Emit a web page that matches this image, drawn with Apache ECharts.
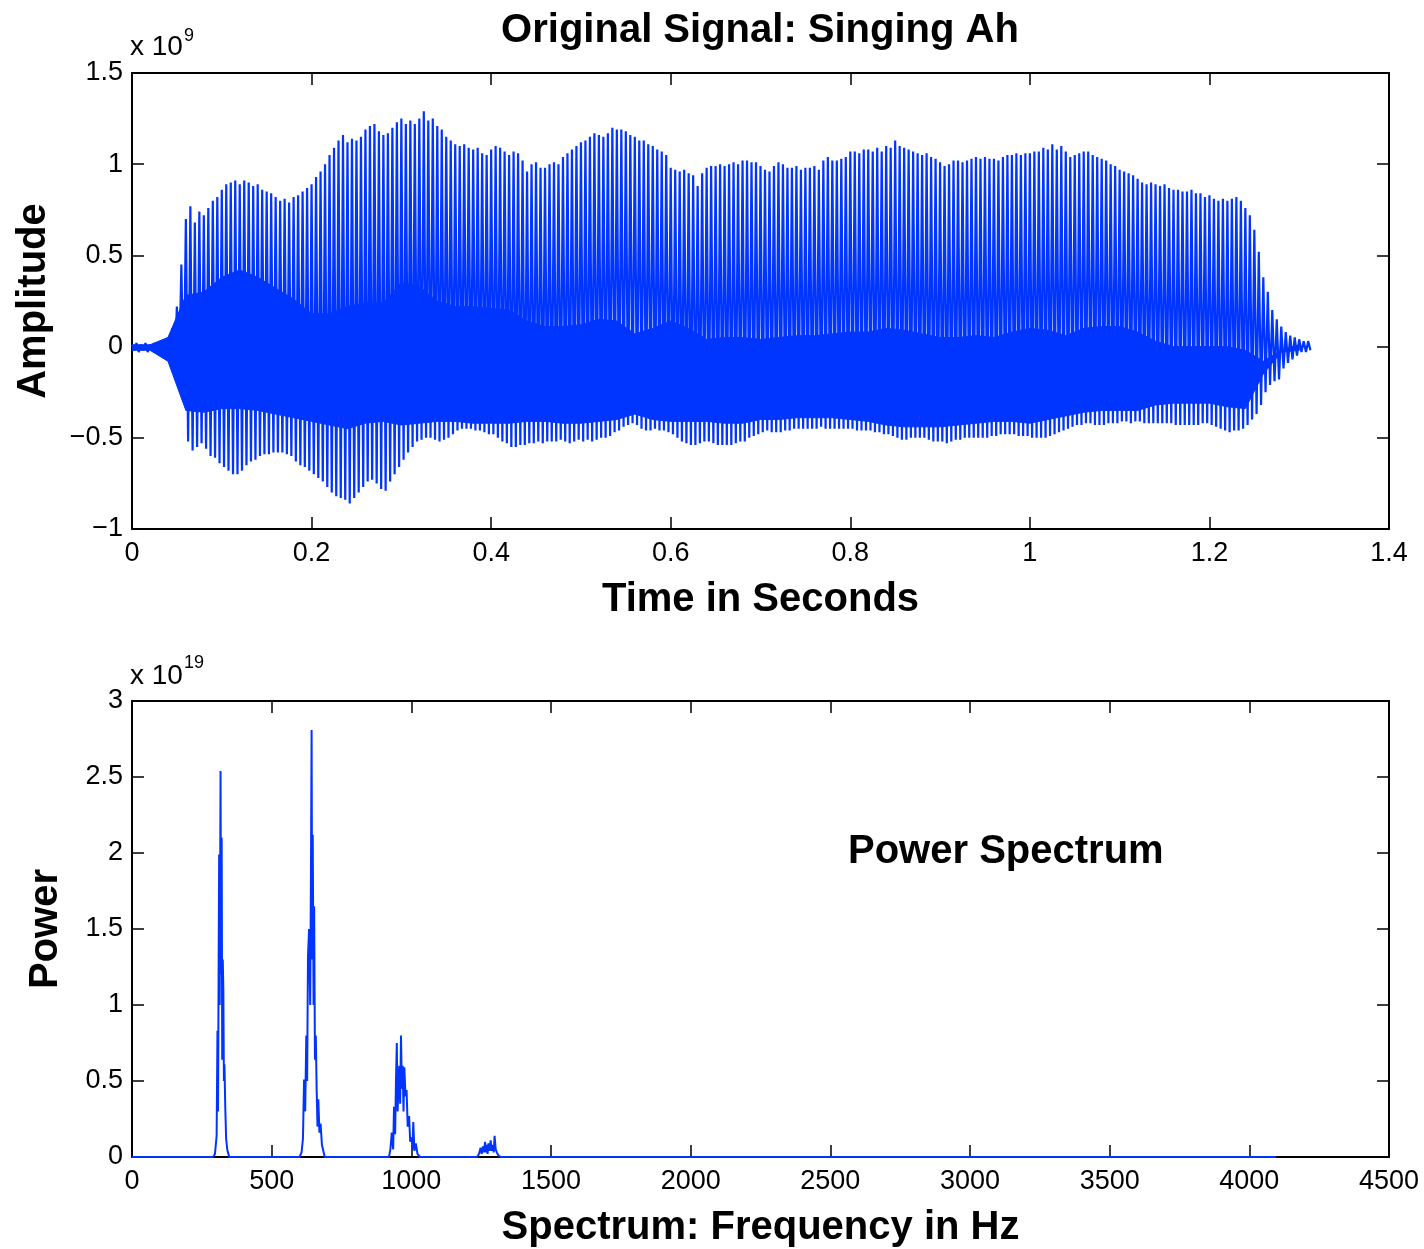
<!DOCTYPE html>
<html>
<head>
<meta charset="utf-8">
<script src="https://cdn.jsdelivr.net/npm/echarts@6/dist/echarts.min.js"></script>
<style>
html,body{margin:0;padding:0;background:#fff;}
#chart{width:1424px;height:1249px;}
</style>
</head>
<body>
<div id="chart"></div>
<script>
// ---------- Top panel: waveform (amplitude in units of 1e9) ----------
// Envelope samples, every 0.005 s starting at t = 0
const ampStep = 0.005;
const ampHigh = [
  0.01,0.02,0.01,0.02,0.01,0.02,0.02,0.03,0.05,0.10,
  0.22,0.45,0.70,0.77,0.68,0.74,0.72,0.76,0.80,0.82,
  0.86,0.89,0.90,0.91,0.89,0.91,0.90,0.88,0.89,0.86,
  0.85,0.84,0.82,0.80,0.81,0.79,0.82,0.83,0.85,0.87,
  0.89,0.93,0.96,1.00,1.05,1.09,1.13,1.16,1.12,1.14,
  1.13,1.15,1.19,1.21,1.22,1.18,1.16,1.17,1.20,1.23,
  1.25,1.22,1.24,1.22,1.25,1.29,1.24,1.25,1.21,1.19,
  1.15,1.13,1.11,1.10,1.11,1.09,1.08,1.09,1.06,1.05,
  1.08,1.10,1.09,1.07,1.05,1.07,1.06,1.02,0.96,1.00,
  1.01,0.98,0.98,1.00,1.01,1.00,1.04,1.06,1.08,1.10,
  1.12,1.13,1.15,1.17,1.16,1.15,1.17,1.20,1.19,1.19,
  1.18,1.16,1.15,1.13,1.13,1.11,1.10,1.08,1.07,1.05,
  0.98,0.97,0.96,0.97,0.95,0.94,0.88,0.95,0.98,0.99,
  0.99,1.00,0.99,1.00,1.01,1.00,1.02,1.02,1.01,1.01,
  0.99,0.97,0.96,0.99,1.01,1.00,0.98,0.98,0.99,0.97,
  0.98,0.98,0.99,0.97,1.02,1.04,1.02,1.02,1.03,1.04,
  1.07,1.07,1.06,1.08,1.08,1.07,1.09,1.07,1.10,1.09,
  1.13,1.10,1.09,1.08,1.07,1.06,1.05,1.06,1.04,1.03,
  1.01,0.99,1.00,1.02,1.02,1.01,1.02,1.03,1.04,1.03,
  1.04,1.03,1.03,1.02,1.04,1.05,1.05,1.06,1.05,1.06,
  1.06,1.07,1.07,1.09,1.08,1.11,1.08,1.10,1.07,1.04,
  1.05,1.06,1.07,1.07,1.05,1.04,1.03,1.02,1.00,0.99,
  0.97,0.96,0.95,0.94,0.92,0.90,0.89,0.90,0.89,0.88,
  0.89,0.87,0.86,0.86,0.85,0.85,0.86,0.84,0.84,0.82,
  0.83,0.81,0.80,0.81,0.80,0.81,0.82,0.80,0.76,0.72,
  0.64,0.52,0.38,0.30,0.20,0.15,0.11,0.08,0.06,0.05,
  0.04,0.03,0.03
];
const ampLow = [
  -0.02,-0.03,-0.02,-0.03,-0.02,-0.02,-0.03,-0.03,-0.05,-0.10,
  -0.15,-0.30,-0.52,-0.57,-0.55,-0.53,-0.56,-0.60,-0.61,-0.64,
  -0.66,-0.68,-0.70,-0.70,-0.68,-0.65,-0.63,-0.62,-0.60,-0.59,
  -0.59,-0.58,-0.58,-0.58,-0.59,-0.60,-0.63,-0.65,-0.66,-0.68,
  -0.70,-0.72,-0.74,-0.77,-0.80,-0.82,-0.83,-0.84,-0.86,-0.83,
  -0.80,-0.77,-0.74,-0.73,-0.75,-0.78,-0.79,-0.74,-0.70,-0.66,
  -0.62,-0.58,-0.55,-0.52,-0.51,-0.50,-0.50,-0.51,-0.52,-0.51,
  -0.50,-0.48,-0.46,-0.45,-0.45,-0.45,-0.46,-0.46,-0.47,-0.48,
  -0.48,-0.50,-0.52,-0.53,-0.55,-0.55,-0.54,-0.54,-0.53,-0.53,
  -0.52,-0.53,-0.52,-0.52,-0.52,-0.51,-0.52,-0.53,-0.52,-0.51,
  -0.52,-0.51,-0.52,-0.51,-0.50,-0.50,-0.49,-0.47,-0.46,-0.44,
  -0.43,-0.42,-0.43,-0.45,-0.46,-0.46,-0.45,-0.46,-0.46,-0.47,
  -0.48,-0.50,-0.52,-0.53,-0.54,-0.54,-0.53,-0.52,-0.52,-0.53,
  -0.54,-0.54,-0.54,-0.54,-0.53,-0.52,-0.52,-0.50,-0.49,-0.48,
  -0.47,-0.46,-0.47,-0.47,-0.47,-0.46,-0.46,-0.45,-0.45,-0.45,
  -0.45,-0.45,-0.45,-0.44,-0.45,-0.45,-0.45,-0.45,-0.45,-0.45,
  -0.45,-0.46,-0.46,-0.46,-0.46,-0.47,-0.47,-0.48,-0.48,-0.49,
  -0.50,-0.51,-0.51,-0.50,-0.50,-0.50,-0.50,-0.51,-0.52,-0.52,
  -0.52,-0.53,-0.52,-0.51,-0.51,-0.50,-0.50,-0.50,-0.50,-0.50,
  -0.50,-0.49,-0.49,-0.48,-0.48,-0.48,-0.48,-0.49,-0.49,-0.49,
  -0.50,-0.50,-0.50,-0.50,-0.49,-0.48,-0.47,-0.46,-0.45,-0.44,
  -0.43,-0.43,-0.42,-0.42,-0.43,-0.43,-0.43,-0.42,-0.42,-0.42,
  -0.41,-0.41,-0.42,-0.41,-0.41,-0.42,-0.42,-0.42,-0.42,-0.42,
  -0.42,-0.42,-0.43,-0.43,-0.43,-0.43,-0.43,-0.43,-0.42,-0.42,
  -0.43,-0.44,-0.45,-0.46,-0.47,-0.46,-0.46,-0.45,-0.43,-0.40,
  -0.37,-0.32,-0.25,-0.21,-0.19,-0.18,-0.12,-0.09,-0.07,-0.05,
  -0.03,-0.03,-0.02
];
// Dense inner band (solid region), every 0.02 s starting at t = 0
const bandStep = 0.02;
const bandTop = [
  0.01,0.01,0.05,0.28,0.30,0.38,0.42,0.38,0.32,0.26,
  0.18,0.18,0.22,0.24,0.24,0.35,0.33,0.25,0.22,0.22,
  0.21,0.20,0.14,0.11,0.11,0.12,0.15,0.14,0.07,0.10,
  0.14,0.10,0.04,0.05,0.05,0.04,0.05,0.06,0.06,0.07,
  0.08,0.08,0.10,0.09,0.07,0.05,0.05,0.06,0.05,0.08,
  0.10,0.09,0.06,0.10,0.11,0.11,0.08,0.03,0.00,0.00,
  0.00,0.00,-0.02,-0.08,-0.02,0.01
];
const bandBottom = [
  -0.02,-0.02,-0.08,-0.35,-0.36,-0.34,-0.34,-0.35,-0.37,-0.39,
  -0.41,-0.43,-0.45,-0.42,-0.41,-0.43,-0.42,-0.41,-0.41,-0.42,
  -0.42,-0.42,-0.41,-0.41,-0.42,-0.42,-0.41,-0.40,-0.37,-0.40,
  -0.41,-0.41,-0.41,-0.42,-0.42,-0.40,-0.40,-0.39,-0.39,-0.39,
  -0.40,-0.41,-0.43,-0.44,-0.44,-0.44,-0.43,-0.42,-0.41,-0.41,
  -0.42,-0.40,-0.38,-0.36,-0.35,-0.35,-0.35,-0.32,-0.31,-0.31,
  -0.31,-0.33,-0.34,-0.15,-0.03,-0.02
];

// ---------- Bottom panel: power spectrum (power in units of 1e19) ----------
const specFreq = [
  0,290,297,303,306,308,310,312,314,317,319,321,323,325,327,329,331,334,337,341,348,
  600,607,612,616,620,624,627,630,634,638,641,643,645,647,650,652,655,658,661,664,667,671,675,680,690,
  920,925,930,935,938,942,945,948,951,954,957,960,963,966,969,972,975,979,983,987,992,996,1001,1004,1007,1011,1016,1022,1031,
  1235,1242,1248,1252,1256,1260,1264,1267,1270,1273,1276,1280,1284,1287,1291,1295,1298,1302,1306,1312,1320,
  4096
];
const specPower = [
  0,0,0.02,0.14,0.83,0.30,1.20,1.99,1.00,2.54,1.20,2.10,0.64,1.30,1.10,0.50,0.61,0.32,0.12,0.05,0,
  0,0.03,0.12,0.51,0.30,0.80,0.50,1.32,1.50,1.00,2.00,2.81,1.30,2.12,1.00,1.65,0.64,0.80,0.45,0.20,0.38,0.16,0.22,0.08,0,
  0,0.05,0.16,0.05,0.33,0.15,0.50,0.75,0.30,0.49,0.60,0.35,0.80,0.45,0.60,0.30,0.59,0.40,0.44,0.20,0.27,0.10,0.13,0.05,0.23,0.04,0.09,0.02,0,
  0,0.02,0.06,0.02,0.07,0.03,0.10,0.03,0.08,0.02,0.09,0.04,0.11,0.04,0.08,0.03,0.14,0.05,0.03,0.01,0,
  0
];

// Axis tick settings
const timeTicks = {min: 0, max: 1.4, interval: 0.2};
const ampTicks = {min: -1, max: 1.5, interval: 0.5};
const freqTicks = {min: 0, max: 4500, interval: 500};
const powTicks = {min: 0, max: 3, interval: 0.5};

// ---------- build series data ----------
const waveData = [];
for (let i = 0; i < ampHigh.length; i++) {
  const t = i * ampStep;
  waveData.push([t, ampHigh[i]]);
  waveData.push([t + ampStep / 2, ampLow[i]]);
}
const bandData = [];
for (let i = 0; i < bandTop.length; i++) bandData.push([i * bandStep, bandTop[i], bandBottom[i]]);
const specData = specFreq.map((f, i) => [f, specPower[i]]);

const BLUE = '#0035ff';
const FONT = 'Liberation Sans, Arial, Helvetica, sans-serif';
const minusFmt = v => String(+v.toFixed(6)).replace('-', '\u2212');

function xAx(gi, ticks, pos, showLabel, name) {
  return {
    type: 'value', gridIndex: gi, position: pos,
    min: ticks.min, max: ticks.max, interval: ticks.interval,
    axisLine: {show: true, onZero: false, lineStyle: {color: '#000', width: 2}},
    axisTick: {show: true, inside: true, length: 12, lineStyle: {color: '#000', width: 1.5}},
    axisLabel: {show: showLabel, color: '#000', fontSize: 27, fontFamily: FONT, margin: 11, formatter: minusFmt},
    splitLine: {show: false},
    name: name || '', nameLocation: 'middle', nameGap: 51,
    nameTextStyle: {color: '#000', fontSize: 40, fontWeight: 'bold', fontFamily: FONT}
  };
}
function yAx(gi, ticks, pos, showLabel, name, gap) {
  return {
    type: 'value', gridIndex: gi, position: pos,
    min: ticks.min, max: ticks.max, interval: ticks.interval,
    axisLine: {show: true, onZero: false, lineStyle: {color: '#000', width: 2}},
    axisTick: {show: true, inside: true, length: 12, lineStyle: {color: '#000', width: 1.5}},
    axisLabel: {show: showLabel, color: '#000', fontSize: 27, fontFamily: FONT, margin: 9, formatter: minusFmt},
    splitLine: {show: false},
    name: name || '', nameLocation: 'middle', nameGap: gap || 60, nameRotate: 90,
    nameTextStyle: {color: '#000', fontSize: 40, fontWeight: 'bold', fontFamily: FONT}
  };
}

const chart = echarts.init(document.getElementById('chart'), null, {renderer: 'canvas'});
chart.setOption({
  backgroundColor: '#fff',
  animation: false,
  grid: [
    {left: 132, top: 73, width: 1257, height: 456},
    {left: 132, top: 701, width: 1257, height: 457}
  ],
  xAxis: [
    xAx(0, timeTicks, 'bottom', true, 'Time in Seconds'),
    xAx(0, timeTicks, 'top', false),
    xAx(1, freqTicks, 'bottom', true, 'Spectrum: Frequency in Hz'),
    xAx(1, freqTicks, 'top', false)
  ],
  yAxis: [
    yAx(0, ampTicks, 'left', true, 'Amplitude', 78),
    yAx(0, ampTicks, 'right', false),
    yAx(1, powTicks, 'left', true, 'Power', 66),
    yAx(1, powTicks, 'right', false)
  ],
  graphic: [
    {type: 'text', x: 760, y: 31, style: {text: 'Original Signal: Singing Ah', fill: '#000', font: 'bold 40px ' + FONT, textAlign: 'center', textVerticalAlign: 'middle'}},
    {type: 'text', x: 130, y: 61, style: {text: 'x 10', fill: '#000', font: '28px ' + FONT, textAlign: 'left', textVerticalAlign: 'bottom'}},
    {type: 'text', x: 184, y: 45, style: {text: '9', fill: '#000', font: '18px ' + FONT, textAlign: 'left', textVerticalAlign: 'bottom'}},
    {type: 'text', x: 130, y: 690, style: {text: 'x 10', fill: '#000', font: '28px ' + FONT, textAlign: 'left', textVerticalAlign: 'bottom'}},
    {type: 'text', x: 184, y: 672, style: {text: '19', fill: '#000', font: '18px ' + FONT, textAlign: 'left', textVerticalAlign: 'bottom'}},
    {type: 'text', x: 848, y: 852, style: {text: 'Power Spectrum', fill: '#000', font: 'bold 40px ' + FONT, textAlign: 'left', textVerticalAlign: 'middle'}}
  ],
  series: [
    {
      type: 'custom', xAxisIndex: 0, yAxisIndex: 0, data: [0], silent: true, clip: true,
      renderItem: function (params, api) {
        const pts = [];
        bandData.forEach(d => pts.push(api.coord([d[0], d[1]])));
        for (let i = bandData.length - 1; i >= 0; i--) pts.push(api.coord([bandData[i][0], bandData[i][2]]));
        return {type: 'polygon', shape: {points: pts}, style: {fill: BLUE, stroke: BLUE, lineWidth: 1}};
      }
    },
    {
      type: 'line', xAxisIndex: 0, yAxisIndex: 0, data: waveData,
      showSymbol: false, symbol: 'none', smooth: false, sampling: null,
      lineStyle: {color: BLUE, width: 2.2}, silent: true, clip: true
    },
    {
      type: 'line', xAxisIndex: 2, yAxisIndex: 2, data: specData,
      showSymbol: false, symbol: 'none', smooth: false,
      lineStyle: {color: BLUE, width: 2}, silent: true, clip: true, z: 1
    }
  ]
});
</script>
</body>
</html>
